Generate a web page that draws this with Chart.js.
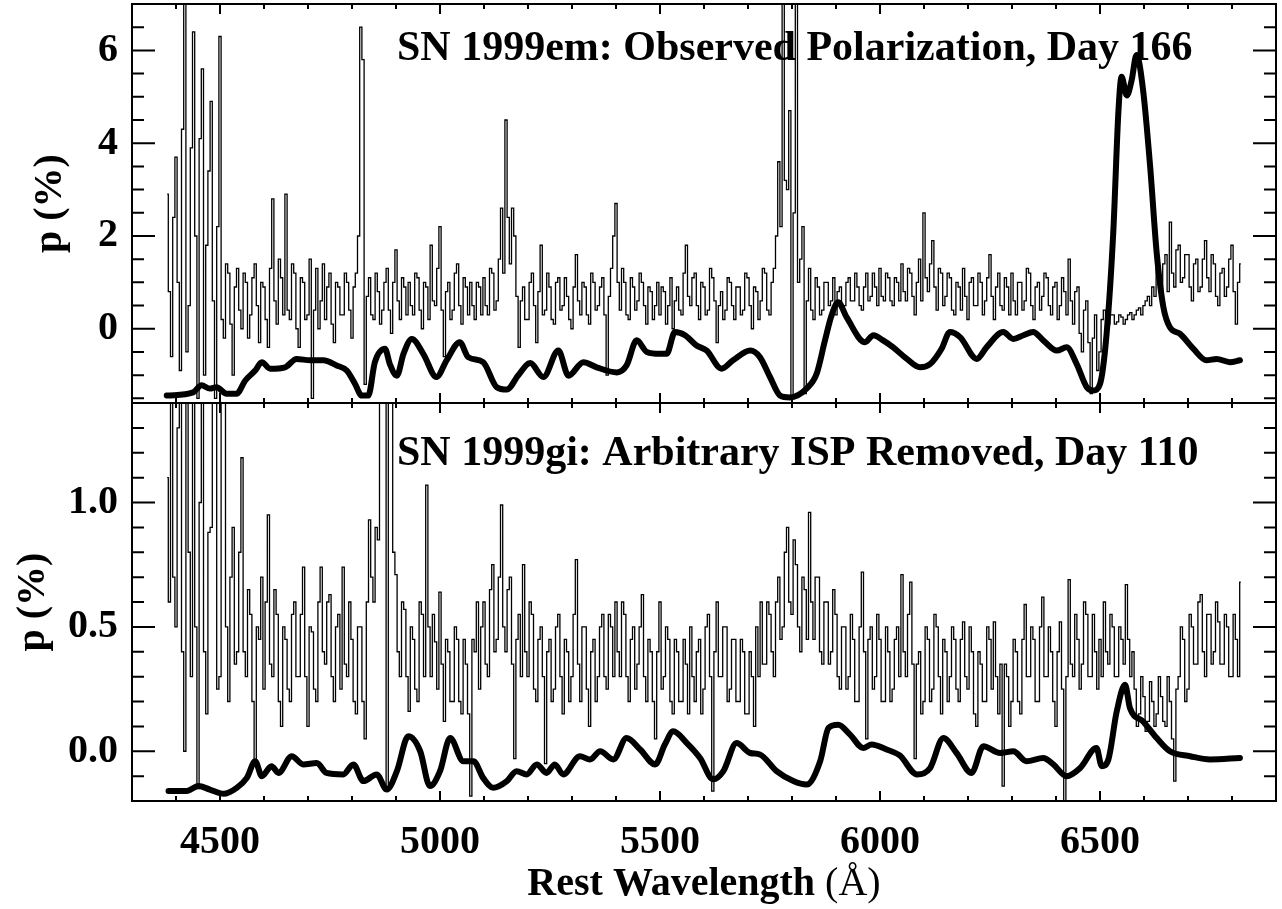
<!DOCTYPE html>
<html>
<head>
<meta charset="utf-8">
<title>SN 1999em / SN 1999gi polarization</title>
<script src="https://cdn.jsdelivr.net/npm/chart.js@4"></script>
<style>
  body { margin: 0; background: #fff; }
  #wrap { position: relative; width: 1282px; height: 909px; }
  #wrap canvas { position: absolute; left: 0; top: 0; }
</style>
</head>
<body>
<div id="wrap">
  <canvas id="topChart" width="1282" height="909"></canvas>
  <canvas id="bottomChart" width="1282" height="909"></canvas>
</div>
<script>
// polarization spectra, one value every 5 A starting at 4380 A (20 values per row = 100 A)
const gridStart = 4380;
const gridStep = 5;

// SN 1999em observed polarization (%)
const emPol = [
  2.9, 0.8, -0.6, 2.4, 3.7, 1.0, -0.9, 4.3, 7.5, -0.5, 0.5, 3.9, 6.4, 2.0, -1.5, 4.1, 5.6, -1.0, 1.8, 3.4,
  4.9, 0.6, -1.5, 2.2, 6.3, 0.2, -0.2, 1.4, 1.2, 0.1, -1.0, 0.9, 1.3, 0.4, 0.0, 1.2, 1.0, -0.2, 0.3, 1.1,
  1.4, 0.5, -0.3, 1.0, 0.9, 0.2, -0.4, 1.3, 2.8, 0.6, 0.1, 1.5, 1.1, 0.3, 2.9, 0.4, 0.2, 1.4, 1.2, 0.0,
  -0.4, 1.1, 1.0, 0.2, 0.3, 1.5, -1.5, 0.4, 1.3, 0.0, 0.6, 1.4, 0.2, 0.9, 1.2, 0.1, -0.3, 1.0, 0.9, 0.3,
  0.3, 1.2, 1.0, 0.4, -0.2, 0.9, 1.2, 2.0, 6.5, 5.8, -1.2, 0.7, 1.1, 0.3, 0.2, 1.2, 0.8, 0.1, 0.4, 1.0,
  1.3, 0.4, -0.1, 1.0, 1.7, 0.6, 0.2, 1.1, 0.9, 0.3, 1.0, 0.5, 0.3, 1.2, 1.1, 0.4, 0.0, 1.0, 0.9, 0.2,
  1.8, 0.6, 0.5, 1.3, 2.2, 0.4, -0.6, 0.8, 1.0, 0.2, 0.4, 1.2, 1.4, 0.5, 0.1, 1.1, 0.9, 0.3, 1.0, 0.5,
  0.2, 1.0, 0.9, 0.3, 1.1, 0.5, 0.3, 1.3, 1.2, 0.4, 0.6, 1.5, 2.6, 1.2, 4.5, 2.4, 1.4, 2.6, 2.0, 0.7,
  -0.4, 0.6, 0.9, 0.2, 0.2, 1.0, 1.2, 0.5, -0.3, 0.8, 1.8, 0.3, 0.4, 1.2, 0.9, 0.2, 0.1, 1.0, 1.1, 0.4,
  0.5, 1.1, 0.7, 0.2, 0.0, 0.9, 1.6, 0.6, 0.3, 1.0, 0.9, 0.3, 0.1, 1.2, 1.0, 0.4, 0.5, 0.9, 1.1, 0.3,
  -1.0, 0.7, 1.3, 2.0, 2.7, 1.0, 0.4, 1.3, 1.0, 0.3, 0.2, 1.1, 0.9, 0.4, 0.6, 1.2, 1.0, 0.5, 0.1, 0.9,
  0.8, 0.2, 0.5, 1.0, 0.3, 0.9, 0.8, 0.1, 0.5, 1.1, 0.0, 0.6, 0.9, 0.4, 0.3, 1.2, 1.8, 0.7, 0.5, 1.1,
  1.2, 0.5, 0.2, 1.0, 0.9, 0.3, 0.4, 1.3, 1.1, 0.6, -0.3, 0.5, 0.8, 0.2, 0.4, 1.1, 1.0, 0.5, 0.2, 0.9,
  0.9, 0.3, 0.4, 1.2, 1.1, 0.5, 0.0, 0.9, 0.8, 0.2, 0.6, 1.3, 1.2, 0.4, 0.3, 1.0, 1.3, 2.0, 3.6, 2.2,
  7.5, 3.2, 3.0, 4.7, -1.5, 2.5, 7.5, 1.0, 1.5, 2.2, -1.4, 0.6, 1.3, 0.4, 0.2, 1.1, 0.9, 0.3, 0.4, 1.0,
  1.0, 0.5, 0.6, 1.1, 0.3, 0.8, 0.9, 0.4, 0.5, 1.0, 1.1, 0.6, 0.6, 1.2, 0.9, 0.5, 0.4, 0.9, 1.2, 0.6,
  0.7, 1.2, 0.9, 0.5, 1.3, 0.7, 0.6, 1.2, 1.1, 0.6, 0.5, 1.1, 1.0, 0.6, 1.4, 0.8, 0.6, 1.3, 1.2, 0.7,
  0.3, 1.0, 1.5, 0.6, 2.5, 1.1, 0.8, 1.4, 1.9, 0.9, 0.4, 1.3, 1.2, 0.5, 0.7, 1.2, 1.1, 0.4, 0.3, 1.0,
  0.9, 0.4, 1.3, 0.7, 0.2, 1.0, 1.1, 0.5, 0.5, 1.2, 1.0, 0.3, 0.6, 1.1, 1.6, 0.7, 0.2, 0.9, 1.2, 0.5,
  0.4, 1.1, 0.9, 0.3, 1.2, 0.6, 0.3, 1.0, 1.0, 0.4, 0.6, 1.3, 1.2, 0.5, 0.2, 0.9, 1.0, 0.4, 0.7, 1.2,
  1.1, 0.5, 0.3, 0.9, 1.0, 0.2, 0.5, 1.1, 0.8, 0.3, 1.5, 0.6, 0.1, 0.8, 0.9, -0.1, -0.5, 0.4, 0.6, -0.3,
  -1.4, -0.2, 0.3, -0.9, -0.5, 0.2, 0.4, -0.1, 0.1, 0.3, 0.3, 0.1, 0.15, 0.3, 0.25, 0.1, 0.2, 0.3, 0.35, 0.2,
  0.3, 0.4, 0.45, 0.3, 0.5, 0.6, 0.7, 0.5, 0.9, 0.7, 1.3, 1.0, 0.7, 1.4, 1.6, 0.8, 2.3, 1.2, 0.9, 1.7,
  1.8, 1.0, 1.1, 1.6, 1.6, 0.9, 0.6, 1.4, 1.5, 0.8, 0.9, 1.5, 1.9, 1.1, 0.8, 1.6, 1.4, 0.7, 0.5, 1.2,
  1.3, 0.7, 0.9, 1.5, 1.8, 0.8, 0.1, 1.0, 1.4
];

// SN 1999gi polarization with arbitrary ISP removed (%)
const giPol = [
  1.1, 0.6, 1.6, 0.7, 0.5, 1.3, 1.6, 0.4, 0.0, 1.6, 0.8, 0.3, 1.6, 0.5, -0.15, 1.0, 1.6, 0.4, 0.15, 0.88,
  0.9, 1.6, 1.6, 0.25, 0.3, 1.6, 1.6, 0.5, 0.2, 0.7, 0.9, 0.35, 0.4, 0.8, 1.18, 0.4, 0.3, 0.65, 0.55, 0.2,
  -0.04, 0.5, 0.45, 0.7, 0.25, 0.6, 0.95, 0.35, 0.3, 0.65, 0.55, 0.2, 0.1, 0.5, 0.45, 0.25, 0.2, 0.55, 0.6, 0.3,
  0.3, 0.55, 0.74, 0.3, 0.1, 0.5, 0.48, 0.25, 0.2, 0.6, 0.74, 0.4, 0.35, 0.6, 0.63, 0.3, 0.2, 0.5, 0.55, 0.25,
  0.74, 0.35, 0.3, 0.6, 0.45, 0.2, 0.15, 0.5, 0.5, 0.2, 0.05, 0.6, 0.93, 0.7, 0.6, 0.9, 0.85, 1.6, 1.6, 1.6,
  -0.16, 1.6, 1.6, 0.8, 0.71, 0.4, 0.3, 0.6, 0.57, 0.3, 0.16, 0.5, 0.45, 0.25, 0.2, 0.6, 0.55, 0.3, 1.07, 0.5,
  0.3, 0.55, 0.44, 0.25, 0.64, 0.35, 0.12, 0.45, 0.4, 0.2, 0.2, 0.5, 0.45, 0.2, 0.15, 0.45, 0.35, 0.15, -0.18, 0.45,
  0.4, 0.6, 0.25, 0.5, 0.6, 0.35, 0.3, 0.65, 0.75, 0.4, 0.45, 0.7, 0.99, 0.5, 0.4, 0.65, 0.7, 0.35, -0.03, 0.45,
  0.55, 0.3, 0.75, 0.4, 0.3, 0.6, 0.55, 0.25, 0.2, 0.45, 0.5, 0.3, -0.05, 0.4, 0.45, 0.2, 0.25, 0.5, 0.55, 0.3,
  0.15, 0.45, 0.4, 0.2, 0.3, 0.55, 0.77, 0.35, 0.2, 0.5, 0.5, 0.25, 0.1, 0.4, 0.45, 0.2, 0.3, 0.5, 0.55, 0.3,
  0.25, 0.55, 0.5, 0.3, 0.6, 0.4, 0.3, 0.6, 0.55, 0.3, 0.2, 0.45, 0.5, 0.25, 0.35, 0.5, 0.63, 0.3, 0.2, 0.45,
  0.4, 0.2, 0.05, 0.4, 0.6, 0.25, 0.3, 0.5, 0.45, 0.2, 0.15, 0.45, 0.4, 0.2, 0.2, 0.45, 0.35, 0.15, 0.5, 0.3,
  0.2, 0.4, 0.45, 0.15, 0.25, 0.5, 0.55, 0.3, -0.16, 0.4, 0.6, 0.3, 0.3, 0.5, 0.5, 0.2, 0.25, 0.45, 0.45, 0.2,
  0.2, 0.45, 0.4, 0.15, 0.15, 0.4, 0.3, 0.1, 0.5, 0.3, 0.6, 0.35, 0.35, 0.6, 0.55, 0.4, 0.3, 0.6, 0.7, 0.45,
  0.5, 0.8, 0.9, 0.6, 0.55, 0.85, 0.75, 0.5, 0.4, 0.7, 0.65, 0.45, 0.96, 0.6, 0.45, 0.7, 0.7, 0.4, 0.35, 0.6,
  0.6, 0.35, 0.4, 0.65, 0.55, 0.3, 0.25, 0.5, 0.5, 0.25, 0.3, 0.55, 0.45, 0.2, 0.2, 0.5, 0.72, 0.4, 0.05, 0.45,
  0.5, 0.25, 0.3, 0.55, 0.45, 0.2, 0.2, 0.5, 0.4, 0.2, 0.25, 0.45, 0.5, 0.3, 0.71, 0.4, 0.3, 0.55, 0.68, 0.35,
  -0.03, 0.35, 0.4, 0.15, 0.2, 0.5, 0.45, 0.2, 0.25, 0.55, 0.5, 0.3, 0.15, 0.45, 0.4, 0.2, 0.3, 0.5, 0.45, 0.25,
  0.2, 0.45, 0.52, 0.3, 0.25, 0.5, 0.4, 0.15, 0.1, 0.4, 0.35, 0.2, 0.2, 0.5, 0.45, 0.25, 0.52, 0.3, 0.15, 0.35,
  -0.14, 0.35, 0.3, 0.1, 0.2, 0.45, 0.4, 0.2, 0.15, 0.45, 0.59, 0.3, 0.3, 0.5, 0.45, 0.2, 0.2, 0.5, 0.62, 0.3,
  0.3, 0.5, 0.4, 0.2, 0.1, 0.4, 0.52, 0.25, -0.2, 0.3, 0.69, 0.35, 0.3, 0.55, 0.45, 0.25, 0.35, 0.6, 0.55, 0.3,
  0.3, 0.55, 0.4, 0.25, 0.45, 0.3, 0.6, 0.4, 0.35, 0.55, 0.5, 0.3, 0.3, 0.5, 0.45, 0.35, 0.67, 0.45, 0.3, 0.4,
  0.25, 0.1, 0.15, 0.3, 0.22, 0.08, 0.12, 0.28, 0.2, 0.1, 0.15, 0.3, 0.22, 0.12, 0.1, 0.3, 0.2, 0.05, -0.12, 0.25,
  0.3, 0.5, 0.45, 0.2, 0.25, 0.55, 0.5, 0.35, 0.35, 0.6, 0.63, 0.4, 0.3, 0.55, 0.55, 0.35, 0.4, 0.6, 0.52, 0.35,
  0.35, 0.55, 0.5, 0.3, 0.3, 0.55, 0.45, 0.3, 0.68
];

// thick smooth curve, SN 1999em panel
const emSmoothWave = [
  4379, 4439, 4458, 4477, 4492, 4515, 4538, 4557, 4580, 4595,
  4614, 4648, 4674, 4705, 4735, 4765, 4788, 4807, 4822, 4837,
  4852, 4875, 4886, 4902, 4917, 4936, 4962, 4992, 5015, 5045,
  5064, 5098, 5129, 5152, 5178, 5205, 5235, 5269, 5292, 5326,
  5356, 5402, 5424, 5447, 5470, 5500, 5515, 5534, 5557, 5583,
  5606, 5640, 5666, 5705, 5727, 5750, 5773, 5795, 5833, 5856,
  5875, 5890, 5905, 5924, 5966, 5985, 6007, 6030, 6061, 6091,
  6114, 6140, 6159, 6182, 6220, 6242, 6280, 6303, 6326, 6348,
  6371, 6402, 6424, 6447, 6470, 6485, 6500, 6515, 6530, 6542,
  6549, 6561, 6572, 6583, 6598, 6614, 6629, 6644, 6659, 6682,
  6712, 6742, 6765, 6795, 6818
];
const emSmoothP = [
  -1.44, -1.37, -1.22, -1.29, -1.26, -1.40, -1.40, -1.12, -0.90, -0.72,
  -0.86, -0.83, -0.65, -0.68, -0.68, -0.79, -0.90, -1.19, -1.44, -1.44,
  -0.72, -0.43, -0.76, -1.01, -0.54, -0.22, -0.54, -1.04, -0.68, -0.29,
  -0.61, -0.72, -1.26, -1.31, -1.00, -0.74, -1.04, -0.47, -1.01, -0.72,
  -0.83, -0.94, -0.79, -0.25, -0.50, -0.54, -0.54, -0.07, -0.14, -0.36,
  -0.47, -0.86, -0.68, -0.47, -0.61, -1.04, -1.44, -1.48, -1.29, -0.97,
  -0.25, 0.29, 0.57, 0.25, -0.29, -0.14, -0.25, -0.40, -0.65, -0.83,
  -0.76, -0.43, -0.07, -0.18, -0.65, -0.40, -0.07, -0.22, -0.14, -0.07,
  -0.25, -0.47, -0.40, -0.76, -1.26, -1.33, -1.19, -0.11, 2.05, 4.71,
  5.43, 5.03, 5.36, 5.90, 5.14, 3.49, 1.62, 0.47, 0.03, -0.11,
  -0.43, -0.68, -0.65, -0.72, -0.68
];

// thick smooth curve, SN 1999gi panel
const giSmoothWave = [
  4383, 4424, 4451, 4477, 4508, 4538, 4561, 4580, 4595, 4617,
  4633, 4663, 4689, 4720, 4742, 4780, 4803, 4826, 4856, 4879,
  4902, 4928, 4955, 4977, 5000, 5023, 5053, 5076, 5098, 5121,
  5152, 5174, 5197, 5220, 5242, 5261, 5280, 5318, 5341, 5364,
  5394, 5424, 5455, 5489, 5511, 5530, 5561, 5591, 5621, 5644,
  5674, 5705, 5727, 5765, 5803, 5833, 5864, 5883, 5905, 5932,
  5962, 5981, 6015, 6045, 6084, 6114, 6144, 6174, 6208, 6235,
  6273, 6303, 6333, 6371, 6394, 6424, 6455, 6492, 6504, 6519,
  6538, 6557, 6568, 6598, 6629, 6659, 6705, 6750, 6818
];
const giSmoothP = [
  -0.16, -0.16, -0.14, -0.154, -0.171, -0.147, -0.107, -0.04, -0.10, -0.06,
  -0.087, -0.02, -0.053, -0.047, -0.087, -0.093, -0.053, -0.12, -0.093, -0.154,
  -0.08, 0.06, 0.0, -0.14, -0.08, 0.053, -0.04, -0.04, -0.107, -0.147,
  -0.12, -0.08, -0.093, -0.053, -0.087, -0.053, -0.093, -0.02, -0.033, 0.0,
  -0.033, 0.053, 0.007, -0.053, 0.027, 0.08, 0.033, -0.027, -0.113, -0.08,
  0.033, -0.007, -0.013, -0.08, -0.12, -0.134, -0.04, 0.094, 0.107, 0.067,
  0.013, 0.027, 0.007, -0.017, -0.093, -0.067, 0.053, -0.007, -0.087, 0.02,
  -0.007, 0.0, -0.04, -0.027, -0.053, -0.10, -0.067, 0.013, -0.06, -0.033,
  0.16, 0.267, 0.174, 0.12, 0.053, 0.0, -0.02, -0.033, -0.027
];

// axis tick labels
const xTicks = [4500, 5000, 5500, 6000, 6500];
const emTicks = [0, 2, 4, 6];
const giTicks = [0.0, 0.5, 1.0];

const serif = '"Liberation Serif", "Times New Roman", serif';

function gridPoints(values) {
  return values.map((v, i) => ({ x: gridStart + i * gridStep, y: v }));
}

function pairPoints(waves, values) {
  return waves.map((w, i) => ({ x: w, y: values[i] }));
}

// frame with inward ticks on all four sides, panel label and axis titles
const framePlugin = {
  id: 'frame',
  afterDatasetsDraw(chart, args, opts) {
    const { ctx, chartArea: area } = chart;
    const xs = chart.scales.x;
    const ys = chart.scales.y;
    ctx.save();
    ctx.strokeStyle = '#000';
    ctx.lineWidth = 2;
    ctx.beginPath();
    for (let w = xs.min; w <= xs.max; w += 100) {
      const px = xs.getPixelForValue(w);
      const len = w % 500 === 0 ? 10 : 5;
      ctx.moveTo(px, area.top);
      ctx.lineTo(px, area.top + len);
      ctx.moveTo(px, area.bottom);
      ctx.lineTo(px, area.bottom - len);
    }
    const n0 = Math.ceil(ys.min / opts.minorStep - 1e-6);
    const n1 = Math.floor(ys.max / opts.minorStep + 1e-6);
    for (let k = n0; k <= n1; k++) {
      const v = k * opts.minorStep;
      const py = ys.getPixelForValue(v);
      const r = v / opts.majorStep;
      const len = Math.abs(r - Math.round(r)) < 1e-6 ? 23 : 12;
      ctx.moveTo(area.left, py);
      ctx.lineTo(area.left + len, py);
      ctx.moveTo(area.right, py);
      ctx.lineTo(area.right - len, py);
    }
    ctx.stroke();
    ctx.strokeRect(area.left, area.top, area.right - area.left, area.bottom - area.top);

    ctx.fillStyle = '#000';
    ctx.font = 'bold 42px ' + serif;
    ctx.textAlign = 'left';
    ctx.textBaseline = 'alphabetic';
    ctx.fillText(opts.label, opts.labelX, opts.labelY);

    // y axis title
    ctx.save();
    ctx.translate(opts.yTitleX, (area.top + area.bottom) / 2);
    ctx.rotate(-Math.PI / 2);
    ctx.font = 'bold 40px ' + serif;
    ctx.textAlign = 'center';
    ctx.textBaseline = 'middle';
    ctx.fillText('p (%)', 0, 0);
    ctx.restore();

    // x axis title, bold words and plain unit
    if (opts.xTitle) {
      ctx.font = 'bold 40px ' + serif;
      const w1 = ctx.measureText('Rest Wavelength ').width;
      ctx.font = '40px ' + serif;
      const w2 = ctx.measureText('(\u00C5)').width;
      const start = (area.left + area.right) / 2 - (w1 + w2) / 2;
      ctx.textAlign = 'left';
      ctx.font = 'bold 40px ' + serif;
      ctx.fillText('Rest Wavelength ', start, opts.xTitleY);
      ctx.font = '40px ' + serif;
      ctx.fillText('(\u00C5)', start + w1, opts.xTitleY);
    }
    ctx.restore();
  }
};

function makePanel(canvasId, panel) {
  const ctx = document.getElementById(canvasId).getContext('2d');
  return new Chart(ctx, {
    type: 'line',
    data: {
      datasets: [{
        data: pairPoints(panel.smoothWave, panel.smoothP),
        borderColor: '#000',
        borderWidth: 6,
        pointRadius: 0,
        cubicInterpolationMode: 'monotone',
        borderJoinStyle: 'round',
        borderCapStyle: 'round',
        order: 0
      }, {
        data: gridPoints(panel.pol),
        borderColor: '#000',
        borderWidth: 1.3,
        pointRadius: 0,
        stepped: 'middle',
        order: 1
      }]
    },
    options: {
      responsive: false,
      animation: false,
      devicePixelRatio: 1,
      events: [],
      layout: { padding: panel.padding },
      plugins: {
        legend: { display: false },
        tooltip: { enabled: false },
        frame: panel.frame
      },
      scales: {
        x: {
          type: 'linear',
          min: 4300,
          max: 6900,
          display: panel.showX,
          afterFit: s => {
            s.height = panel.showX ? 108 : 0;
            s.paddingLeft = 0;
            s.paddingRight = 0;
          },
          afterBuildTicks: s => { s.ticks = xTicks.map(v => ({ value: v })); },
          grid: { display: false, drawTicks: false },
          border: { display: false },
          ticks: {
            color: '#000',
            font: { family: serif, size: 40, weight: 'bold' },
            padding: 18,
            maxRotation: 0,
            autoSkip: false,
            callback: v => String(v)
          }
        },
        y: {
          type: 'linear',
          min: panel.yMin,
          max: panel.yMax,
          afterFit: s => {
            s.width = 132;
            s.paddingTop = 0;
            s.paddingBottom = 0;
          },
          afterBuildTicks: s => { s.ticks = panel.yTicks.map(v => ({ value: v })); },
          grid: { display: false, drawTicks: false },
          border: { display: false },
          ticks: {
            color: '#000',
            font: { family: serif, size: 40, weight: 'bold' },
            padding: 14,
            callback: panel.yFormat
          }
        }
      }
    },
    plugins: [framePlugin]
  });
}

function drawCharts() {
  makePanel('topChart', {
    smoothWave: emSmoothWave,
    smoothP: emSmoothP,
    pol: emPol,
    yMin: -1.6,
    yMax: 7,
    yTicks: emTicks,
    yFormat: v => String(v),
    showX: false,
    padding: { left: 0, right: 6, top: 4, bottom: 506 },
    frame: {
      minorStep: 0.5, majorStep: 2,
      label: 'SN 1999em: Observed Polarization, Day 166',
      labelX: 397, labelY: 60,
      yTitleX: 51
    }
  });
  makePanel('bottomChart', {
    smoothWave: giSmoothWave,
    smoothP: giSmoothP,
    pol: giPol,
    yMin: -0.2,
    yMax: 1.4,
    yTicks: giTicks,
    yFormat: v => v.toFixed(1),
    showX: true,
    padding: { left: 0, right: 6, top: 403, bottom: 0 },
    frame: {
      minorStep: 0.1, majorStep: 0.5,
      label: 'SN 1999gi: Arbitrary ISP Removed, Day 110',
      labelX: 397, labelY: 465,
      yTitleX: 34,
      xTitle: true, xTitleY: 895
    }
  });
}

window.onload = drawCharts;
</script>
</body>
</html>
